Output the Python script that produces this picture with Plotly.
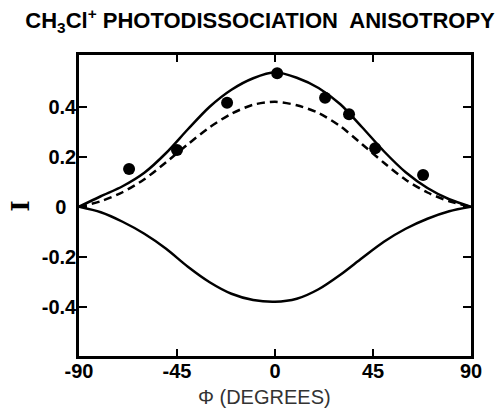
import plotly.graph_objects as go

# Angles (degrees) at which the curves were read
phi_curve = [-90, -80, -70, -60, -50, -40, -30, -20, -10, 0, 10, 20, 30, 40, 50, 60, 70, 80, 90]
upper_solid = [0, 0.042, 0.082, 0.136, 0.215, 0.31, 0.40, 0.468, 0.514, 0.538, 0.516, 0.475, 0.41, 0.318, 0.222, 0.138, 0.075, 0.03, 0]
dashed = [0, 0.022, 0.058, 0.11, 0.178, 0.25, 0.318, 0.372, 0.408, 0.42, 0.406, 0.375, 0.322, 0.25, 0.176, 0.108, 0.057, 0.022, 0]
lower_solid = [0, -0.022, -0.06, -0.108, -0.168, -0.24, -0.302, -0.348, -0.373, -0.38, -0.368, -0.33, -0.272, -0.205, -0.14, -0.088, -0.048, -0.018, 0]

# Measured points
phi_pts = [-67, -45, -22, 1, 23, 34, 46, 68]
I_pts = [0.151, 0.227, 0.416, 0.534, 0.436, 0.37, 0.234, 0.127]

x_ticks = [-90, -45, 0, 45, 90]
x_ticklabels = ["-90", "-45", "0", "45", "90"]
y_ticks = [-0.4, -0.2, 0, 0.2, 0.4]
y_ticklabels = ["-0.4", "-0.2", "0\u2002", "0.2", "0.4"]

SANS = "Liberation Sans, Arial, sans-serif"

fig = go.Figure()
fig.add_trace(go.Scatter(x=phi_curve, y=upper_solid, mode="lines",
                         line=dict(color="black", width=2.5, shape="spline", smoothing=0.8)))
fig.add_trace(go.Scatter(x=phi_curve, y=dashed, mode="lines",
                         line=dict(color="black", width=2.5, dash="8px,5px", shape="spline", smoothing=0.8)))
fig.add_trace(go.Scatter(x=phi_curve, y=lower_solid, mode="lines",
                         line=dict(color="black", width=2.5, shape="spline", smoothing=0.8)))
fig.add_trace(go.Scatter(x=phi_pts, y=I_pts, mode="markers",
                         marker=dict(color="black", size=12)))

tickfont = dict(family=SANS, size=20, color="black", weight="bold")

fig.update_layout(
    width=503, height=413,
    margin=dict(l=79, r=32, t=55, b=57),
    paper_bgcolor="white", plot_bgcolor="white",
    showlegend=False,
    title=dict(text="CH<sub>3</sub>Cl<sup>+</sup> PHOTODISSOCIATION  ANISOTROPY",
               font=dict(family=SANS, size=22, color="black", weight="bold"),
               xref="container", yref="container", x=0.517, xanchor="center", y=0.95, yanchor="middle"),
    xaxis=dict(range=[-90, 90], tickvals=x_ticks, ticktext=x_ticklabels,
               ticks="inside", ticklen=7, tickwidth=2, tickcolor="black",
               showline=True, linewidth=2.5, linecolor="black", mirror="ticks",
               showgrid=False, zeroline=False, tickfont=tickfont, ticklabelstandoff=-5),
    yaxis=dict(range=[-0.597, 0.607], tickvals=y_ticks, ticktext=y_ticklabels,
               ticks="inside", ticklen=8, tickwidth=2, tickcolor="black",
               showline=True, linewidth=2.5, linecolor="black", mirror="ticks",
               showgrid=False, zeroline=False, tickfont=tickfont, ticklabelstandoff=-4),
    annotations=[
        dict(text="Φ (DEGREES)", xref="paper", yref="paper", x=0.473, y=-0.136,
             xanchor="center", yanchor="middle", showarrow=False,
             font=dict(family=SANS, size=20, color="#333")),
        dict(text="I", xref="paper", yref="paper", x=-0.148, y=0.5,
             xanchor="center", yanchor="middle", showarrow=False, textangle=-90,
             font=dict(family="DejaVu Serif, Liberation Serif, serif", size=24, color="black", weight="bold")),
    ],
)

fig.write_html("out.html")
